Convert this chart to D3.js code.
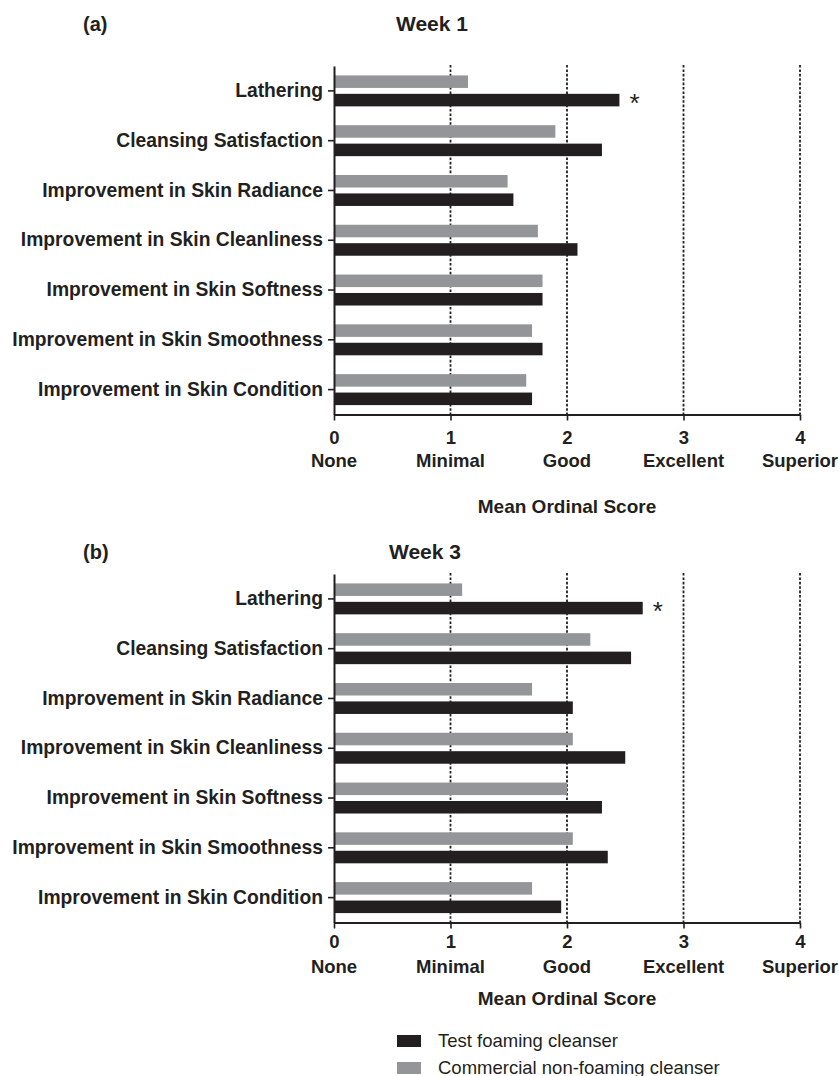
<!DOCTYPE html>
<html>
<head>
<meta charset="utf-8">
<script src="https://cdn.jsdelivr.net/npm/d3@7"></script>
<style>
    body { margin: 0; background: #fff; }
    svg { display: block; font-family: "Liberation Sans", Arial, sans-serif; }
</style>
</head>
<body>
<div id="chart"></div>
<script>
// data
const categories = [
    "Lathering",
    "Cleansing Satisfaction",
    "Improvement in Skin Radiance",
    "Improvement in Skin Cleanliness",
    "Improvement in Skin Softness",
    "Improvement in Skin Smoothness",
    "Improvement in Skin Condition"
];
const week1Test       = [2.45, 2.30, 1.54, 2.09, 1.79, 1.79, 1.70];
const week1Commercial = [1.15, 1.90, 1.49, 1.75, 1.79, 1.70, 1.65];
const week3Test       = [2.65, 2.55, 2.05, 2.50, 2.30, 2.35, 1.95];
const week3Commercial = [1.10, 2.20, 1.70, 2.05, 2.00, 2.05, 1.70];
const scoreTicks  = [0, 1, 2, 3, 4];
const scoreLabels = ["None", "Minimal", "Good", "Excellent", "Superior"];
const seriesNames = ["Test foaming cleanser", "Commercial non-foaming cleanser"];
const significant = ["Lathering"];

const DARK = "#231f20", GREY = "#939598";

/* * * * * * * * * * * * * *
*     class RatingPanel    *
* * * * * * * * * * * * * */
class RatingPanel {
    constructor(svg, opts) {
        this.svg = svg;
        this.opts = opts;
        this.initVis();
    }

    initVis() {
        let vis = this, o = vis.opts;

        vis.g = vis.svg.append("g");

        // scales
        vis.x = d3.scaleLinear().domain([0, 4]).range([334, 800]);
        vis.y = d3.scaleBand().domain(categories).range([o.top, o.bottom])
            .paddingInner(0.378).paddingOuter(0.189);
        vis.sub = d3.scaleBand().domain(["commercial", "test"])
            .range([0, vis.y.bandwidth()]).paddingInner(0.32);

        // panel letter + title
        vis.g.append("text").attr("x", 83).attr("y", o.titleY)
            .attr("font-size", 20).attr("font-weight", "bold").attr("fill", DARK)
            .text(o.letter);
        vis.g.append("text").attr("x", o.titleX).attr("y", o.titleY)
            .attr("text-anchor", "middle")
            .attr("font-size", 21).attr("font-weight", "bold").attr("fill", DARK)
            .text(o.title);

        vis.updateVis();
    }

    updateVis() {
        let vis = this, o = vis.opts;

        // dotted reference lines
        vis.g.append("g").selectAll("line")
            .data(scoreTicks.slice(1))
            .join("line")
            .attr("x1", d => vis.x(d)).attr("x2", d => vis.x(d))
            .attr("y1", o.top - 1).attr("y2", o.bottom)
            .attr("stroke", DARK).attr("stroke-width", 1.8)
            .attr("stroke-dasharray", "2.6,1.8");

        // bars
        let rows = categories.map((c, i) => ({cat: c, test: o.test[i], commercial: o.commercial[i]}));
        let groups = vis.g.append("g").selectAll("g")
            .data(rows)
            .join("g")
            .attr("transform", d => "translate(0," + vis.y(d.cat) + ")");

        groups.selectAll("rect")
            .data(d => [{key: "commercial", v: d.commercial}, {key: "test", v: d.test}])
            .join("rect")
            .attr("x", vis.x(0))
            .attr("y", d => vis.sub(d.key))
            .attr("width", d => vis.x(d.v) - vis.x(0))
            .attr("height", vis.sub.bandwidth())
            .attr("fill", d => d.key === "test" ? DARK : GREY);

        // significance marker
        vis.g.append("g").selectAll("text")
            .data(rows.filter(d => significant.includes(d.cat)))
            .join("text")
            .attr("x", d => vis.x(d.test) + 10)
            .attr("y", d => vis.y(d.cat) + vis.sub("test") + vis.sub.bandwidth() / 2 + 11.5)
            .attr("font-size", 26).attr("fill", DARK)
            .text("*");

        // y axis
        let yAxis = vis.g.append("g")
            .attr("transform", "translate(" + vis.x(0) + ",0)")
            .call(d3.axisLeft(vis.y).tickSize(6).tickSizeOuter(0).tickPadding(5));
        yAxis.select(".domain").attr("stroke", DARK).attr("stroke-width", 2);
        yAxis.selectAll(".tick line").attr("stroke", DARK).attr("stroke-width", 1.6);
        yAxis.selectAll("text")
            .attr("font-family", "Liberation Sans, Arial, sans-serif")
            .attr("font-size", 19.3).attr("font-weight", "bold").attr("fill", DARK);

        // x axis
        let xAxis = vis.g.append("g")
            .attr("transform", "translate(0," + o.bottom + ")")
            .call(d3.axisBottom(vis.x).tickValues(scoreTicks).tickFormat(d3.format("d"))
                .tickSize(6).tickSizeOuter(0).tickPadding(o.numPad));
        xAxis.select(".domain").attr("stroke", DARK).attr("stroke-width", 2);
        xAxis.selectAll(".tick line").attr("stroke", DARK).attr("stroke-width", 1.6);
        xAxis.selectAll("text")
            .attr("font-family", "Liberation Sans, Arial, sans-serif")
            .attr("font-size", 18.5).attr("font-weight", "bold").attr("fill", DARK);

        // word labels under the numbers
        vis.g.append("g").selectAll("text")
            .data(scoreTicks)
            .join("text")
            .attr("x", d => vis.x(d))
            .attr("y", o.bottom + o.nameOff)
            .attr("text-anchor", "middle")
            .attr("font-size", 18.5).attr("font-weight", "bold").attr("fill", DARK)
            .text((d, i) => scoreLabels[i]);

        // axis title
        vis.g.append("text")
            .attr("x", vis.x(2)).attr("y", o.bottom + o.titleOff)
            .attr("text-anchor", "middle")
            .attr("font-size", 19).attr("font-weight", "bold").attr("fill", DARK)
            .text("Mean Ordinal Score");
    }
}

let svg = d3.select("#chart").append("svg")
    .attr("width", 839).attr("height", 1076);

new RatingPanel(svg, {letter: "(a)", title: "Week 1", titleX: 432, titleY: 31,
    top: 66, bottom: 414.5, numPad: 10, nameOff: 52, titleOff: 98,
    test: week1Test, commercial: week1Commercial});

new RatingPanel(svg, {letter: "(b)", title: "Week 3", titleX: 425, titleY: 559,
    top: 574, bottom: 922.5, numPad: 6, nameOff: 50, titleOff: 82,
    test: week3Test, commercial: week3Commercial});

// legend
let legend = svg.append("g").selectAll("g")
    .data(seriesNames)
    .join("g")
    .attr("transform", (d, i) => "translate(397," + (1035 + i * 27) + ")");
legend.append("rect")
    .attr("width", 24).attr("height", 12)
    .attr("fill", (d, i) => i === 0 ? DARK : GREY);
legend.append("text")
    .attr("x", 41).attr("y", 11.5)
    .attr("font-size", 18.5).attr("fill", DARK)
    .text(d => d);
</script>
</body>
</html>
